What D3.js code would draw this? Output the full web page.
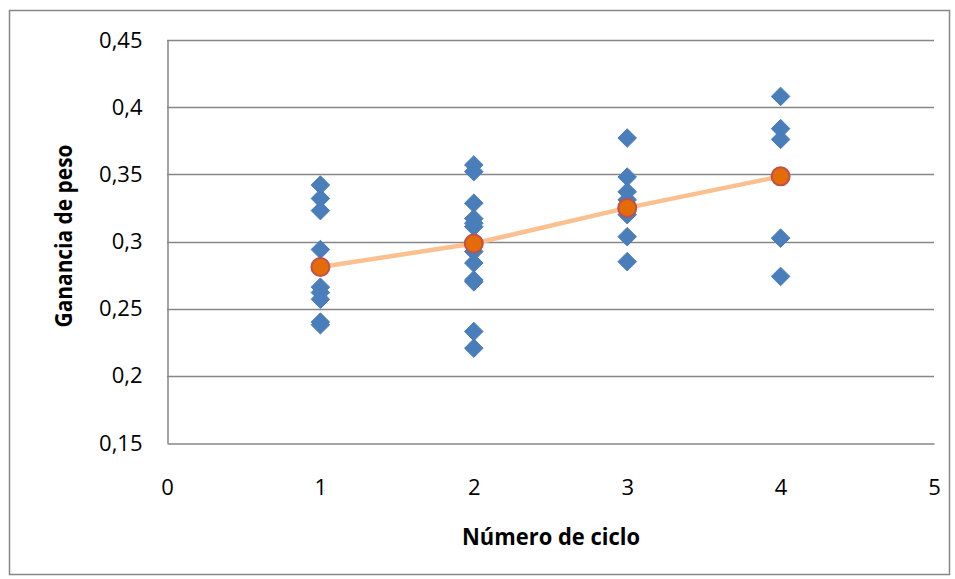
<!DOCTYPE html>
<html><head><meta charset="utf-8">
<script src="https://cdn.jsdelivr.net/npm/d3@7"></script>
<style>body{margin:0;background:#fff;} text{font-family:"Open Sans","Noto Sans",sans-serif;}</style>
</head><body><svg id="c" width="955" height="579"></svg>
<script>
const cycles = [1, 2, 3, 4];
const ciclo1 = [0.342, 0.332, 0.323, 0.294, 0.266, 0.262, 0.257, 0.240, 0.238];
const ciclo2 = [0.357, 0.352, 0.3285, 0.317, 0.3136, 0.311, 0.2925, 0.284, 0.2714, 0.270, 0.233, 0.2206];
const ciclo3 = [0.377, 0.348, 0.337, 0.331, 0.320, 0.3036, 0.285];
const ciclo4 = [0.408, 0.384, 0.376, 0.3025, 0.274];
const means = [0.281, 0.2985, 0.325, 0.3485];
const yTicks = [0.15, 0.2, 0.25, 0.3, 0.35, 0.4, 0.45];
const xTicks = [0, 1, 2, 3, 4, 5];

const svg = d3.select("#c");
const L = 167, R = 934, T = 40, B = 443;
const x = d3.scaleLinear().domain([0, 5]).range([L, R]);
const y = d3.scaleLinear().domain([0.15, 0.45]).range([B, T]);
const fmt = d => String(d).replace(".", ",");

svg.append("rect").attr("x", 9.5).attr("y", 10.5).attr("width", 940).attr("height", 564)
  .attr("fill", "#fff").attr("stroke", "#868686").attr("stroke-width", 1.5);

// gridlines
svg.append("g").selectAll("line").data(yTicks.slice(1)).join("line")
  .attr("x1", L).attr("x2", R).attr("y1", d => Math.round(y(d)) + 0.5).attr("y2", d => Math.round(y(d)) + 0.5)
  .attr("stroke", "#868686").attr("stroke-width", 1.5);

// axes
const yAxis = d3.axisLeft(y).tickValues(yTicks).tickSize(0).tickPadding(25).tickFormat(fmt);
const gy = svg.append("g").attr("transform", `translate(${L + 0.5},0)`).call(yAxis);
gy.select(".domain").attr("stroke", "#868686").attr("stroke-width", 1.5);
gy.selectAll("text").attr("font-size", 22).attr("fill", "#000");

const xAxis = d3.axisBottom(x).tickValues(xTicks).tickSize(0).tickPadding(36).tickFormat(fmt);
const gx = svg.append("g").attr("transform", `translate(0,${B + 0.5})`).call(xAxis);
gx.select(".domain").attr("stroke", "#868686").attr("stroke-width", 1.5);
gx.selectAll("text").attr("font-size", 22).attr("fill", "#000");

// titles
svg.append("text").attr("x", 551).attr("y", 545).attr("text-anchor", "middle")
  .attr("font-size", 23).attr("font-weight", "bold")
  .attr("textLength", 178).attr("lengthAdjust", "spacingAndGlyphs").text("Número de ciclo");
svg.append("text").attr("transform", "translate(72,236) rotate(-90)").attr("text-anchor", "middle")
  .attr("font-size", 23).attr("font-weight", "bold")
  .attr("textLength", 183).attr("lengthAdjust", "spacingAndGlyphs").text("Ganancia de peso");

// points
const pts = [];
[ciclo1, ciclo2, ciclo3, ciclo4].forEach((arr, i) => arr.forEach(v => pts.push([cycles[i], v])));
const diamond = d3.symbol().type(d3.symbolDiamond2).size(220);
svg.append("g").selectAll("path").data(pts).join("path")
  .attr("transform", d => `translate(${x(d[0])},${y(d[1])})`)
  .attr("d", diamond).attr("fill", "#4a7ebb").attr("stroke", "#4a7ebb").attr("stroke-width", 1);

// mean line
const line = d3.line().x((d, i) => x(cycles[i])).y(d => y(d));
svg.append("path").datum(means).attr("d", line).attr("fill", "none")
  .attr("stroke", "#fac090").attr("stroke-width", 4.5);
svg.append("g").selectAll("circle").data(means).join("circle")
  .attr("cx", (d, i) => x(cycles[i])).attr("cy", d => y(d)).attr("r", 9)
  .attr("fill", "#e36c09").attr("stroke", "#c0504d").attr("stroke-width", 2);
</script></body></html>
